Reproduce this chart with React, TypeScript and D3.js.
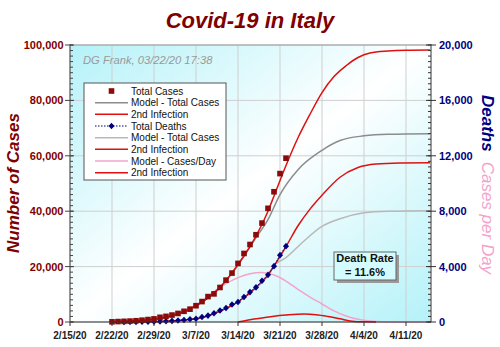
import React from "react";
import * as d3 from "d3";

// ---------- data ----------
const casesStart = "2020-02-22";
const totalCases = [62, 155, 229, 322, 453, 655, 888, 1128, 1694, 2036, 2502, 3089, 3858, 4636, 5883, 7375, 9172, 10149, 12462, 15113, 17660, 21157, 24747, 27980, 31506, 35713, 41035, 47021, 53578, 59138];
const deathsStart = "2020-02-24";
const totalDeaths = [7, 10, 12, 17, 21, 29, 34, 52, 79, 107, 148, 197, 233, 366, 463, 631, 827, 1016, 1266, 1441, 1809, 2158, 2503, 2978, 3405, 4032, 4825, 5476];

const modelCasesDates = ["2020-02-22", "2020-02-29", "2020-03-07", "2020-03-11", "2020-03-14", "2020-03-17", "2020-03-19", "2020-03-21", "2020-03-24", "2020-03-28", "2020-03-31", "2020-04-04", "2020-04-08", "2020-04-15"];
const modelCasesValues = [100, 1000, 5800, 12500, 20500, 30500, 37000, 46000, 55000, 62000, 65500, 67200, 67800, 68000];

const secondCasesDates = ["2020-02-22", "2020-02-29", "2020-03-07", "2020-03-11", "2020-03-14", "2020-03-17", "2020-03-19", "2020-03-20", "2020-03-22", "2020-03-24", "2020-03-26", "2020-03-28", "2020-03-30", "2020-04-01", "2020-04-03", "2020-04-05", "2020-04-08", "2020-04-11", "2020-04-15"];
const secondCasesValues = [100, 1000, 5800, 12500, 20800, 31000, 40000, 45500, 56500, 66500, 75000, 82800, 88600, 92500, 95500, 97100, 97800, 98100, 98200];

const modelDeathsDates = ["2020-02-22", "2020-02-29", "2020-03-07", "2020-03-11", "2020-03-14", "2020-03-17", "2020-03-19", "2020-03-20", "2020-03-22", "2020-03-25", "2020-03-28", "2020-03-31", "2020-04-04", "2020-04-08", "2020-04-15"];
const modelDeathsValues = [0, 25, 230, 780, 1450, 2450, 3350, 4050, 4650, 5850, 6900, 7450, 7880, 8000, 8040];

const secondDeathsDates = ["2020-02-22", "2020-02-29", "2020-03-07", "2020-03-11", "2020-03-14", "2020-03-17", "2020-03-19", "2020-03-20", "2020-03-22", "2020-03-24", "2020-03-26", "2020-03-28", "2020-03-31", "2020-04-03", "2020-04-06", "2020-04-10", "2020-04-15"];
const secondDeathsValues = [0, 25, 230, 780, 1450, 2500, 3400, 4050, 5450, 6950, 8150, 9150, 10450, 11150, 11400, 11480, 11500];

const perDayDates = ["2020-02-22", "2020-02-25", "2020-02-29", "2020-03-03", "2020-03-07", "2020-03-11", "2020-03-14", "2020-03-16", "2020-03-18", "2020-03-20", "2020-03-22", "2020-03-24", "2020-03-26", "2020-03-28", "2020-03-30", "2020-04-01", "2020-04-03", "2020-04-05", "2020-04-07", "2020-04-10", "2020-04-15"];
const perDayValues = [30, 80, 250, 520, 1230, 2500, 3200, 3480, 3570, 3390, 2950, 2350, 1800, 1300, 800, 430, 200, 70, 15, 0, 0];

const secondPerDayDates = ["2020-03-14", "2020-03-17", "2020-03-20", "2020-03-22", "2020-03-25", "2020-03-27", "2020-03-29", "2020-03-31", "2020-04-02", "2020-04-04", "2020-04-06"];
const secondPerDayValues = [0, 230, 420, 500, 575, 530, 400, 230, 60, 10, 0];

const xTickDates = ["2020-02-15", "2020-02-22", "2020-02-29", "2020-03-07", "2020-03-14", "2020-03-21", "2020-03-28", "2020-04-04", "2020-04-11"];
const xTickLabels = ["2/15/20", "2/22/20", "2/29/20", "3/7/20", "3/14/20", "3/21/20", "3/28/20", "4/4/20", "4/11/20"];
const leftTicks = [0, 20000, 40000, 60000, 80000, 100000];
const rightTicks = [0, 4000, 8000, 12000, 16000, 20000];

const legendLabels = ["Total Cases", "Model - Total Cases", "2nd Infection", "Total Deaths", "Model - Total Cases", "2nd Infection", "Model - Cases/Day", "2nd Infection"];

// ---------- helpers ----------
const parse = d3.utcParse("%Y-%m-%d");
const DAY = 86400000;
const daily = (start: string, vals: number[]) => {
  const s = parse(start)!.getTime();
  return vals.map((v, i) => ({ date: new Date(s + i * DAY), v }));
};
const pairs = (dates: string[], vals: number[]) => dates.map((d, i) => ({ date: parse(d)!, v: vals[i] }));

const FONT = "'Liberation Sans', Arial, sans-serif";
const DARKRED = "#800000";
const NAVY = "#000080";
const RED = "#e01010";
const GRAY = "#8c8c8c";
const LGRAY = "#b8b8b8";
const PINK = "#f4a3cb";

export default function App() {
  const L = 70, R = 430, T = 45, B = 322;
  const x = d3.scaleUtc().domain([parse("2020-02-15")!, parse("2020-04-15")!]).range([L, R]);
  const yL = d3.scaleLinear().domain([0, 100000]).range([B, T]);
  const yR = d3.scaleLinear().domain([0, 20000]).range([B, T]);

  const lineL = d3.line<{ date: Date; v: number }>().x(d => x(d.date)).y(d => yL(d.v)).curve(d3.curveMonotoneX);
  const lineR = d3.line<{ date: Date; v: number }>().x(d => x(d.date)).y(d => yR(d.v)).curve(d3.curveMonotoneX);
  const lineRstraight = d3.line<{ date: Date; v: number }>().x(d => x(d.date)).y(d => yR(d.v));

  const cases = daily(casesStart, totalCases);
  const deaths = daily(deathsStart, totalDeaths);

  const leftMinor = d3.range(0, 100001, 2000);
  const rightMinor = d3.range(0, 20001, 400);
  const fmt = d3.format(",");

  const diamond = "M0,-3.3L3,0L0,3.3L-3,0Z";

  const lgX = 84, lgY = 83, lgW = 142, lgH = 97;
  const rowY = (i: number) => lgY + 8 + i * 11.67;
  const legendStyles = [
    { kind: "square" },
    { kind: "line", color: GRAY },
    { kind: "line", color: RED },
    { kind: "deaths" },
    { kind: "line", color: LGRAY },
    { kind: "line", color: RED },
    { kind: "line", color: PINK },
    { kind: "line", color: RED },
  ];

  return (
    <svg width={500} height={347} style={{ position: "absolute", left: 0, top: 0, display: "block", background: "#fff" }} fontFamily={FONT}>
      <defs>
        <linearGradient id="bg" x1="0" y1="0" x2="1" y2="1">
          <stop offset="0" stopColor="#b4f2f9" />
          <stop offset="0.5" stopColor="#ffffff" />
          <stop offset="1" stopColor="#b4f2f9" />
        </linearGradient>
      </defs>

      {/* plot background */}
      <rect x={L} y={T} width={R - L} height={B - T} fill="url(#bg)" />

      {/* grid */}
      {xTickDates.map((d, i) => (
        <line key={"gx" + i} x1={x(parse(d)!)} x2={x(parse(d)!)} y1={T} y2={B} stroke="#cfcfcf" strokeWidth={1} />
      ))}
      {leftTicks.map((t, i) => (
        <line key={"gy" + i} x1={L} x2={R} y1={yL(t)} y2={yL(t)} stroke="#cfcfcf" strokeWidth={1} />
      ))}
      <line x1={L} x2={R} y1={T} y2={T} stroke="#9a9a9a" />

      {/* model lines */}
      <path d={lineR(pairs(perDayDates, perDayValues))!} fill="none" stroke={PINK} strokeWidth={1.5} />
      <path d={lineR(pairs(secondPerDayDates, secondPerDayValues))!} fill="none" stroke={RED} strokeWidth={1.5} />
      <path d={lineR(pairs(modelDeathsDates, modelDeathsValues))!} fill="none" stroke={LGRAY} strokeWidth={1.5} />
      <path d={lineR(pairs(secondDeathsDates, secondDeathsValues))!} fill="none" stroke={RED} strokeWidth={1.5} />
      <path d={lineL(pairs(modelCasesDates, modelCasesValues))!} fill="none" stroke={GRAY} strokeWidth={1.5} />
      <path d={lineL(pairs(secondCasesDates, secondCasesValues))!} fill="none" stroke={RED} strokeWidth={1.5} />

      {/* deaths dotted line + markers */}
      <path d={lineRstraight(deaths)!} fill="none" stroke={NAVY} strokeWidth={1} strokeDasharray="1.5,1.5" />
      {deaths.map((d, i) => (
        <path key={"dm" + i} d={diamond} transform={`translate(${x(d.date)},${yR(d.v)})`} fill={NAVY} />
      ))}
      {cases.map((d, i) => (
        <rect key={"cm" + i} x={x(d.date) - 2.8} y={yL(d.v) - 2.8} width={5.6} height={5.6} fill="#8b0a0a" />
      ))}

      {/* axes */}
      <line x1={L} x2={L} y1={T - 1} y2={B} stroke="#444" />
      <line x1={R + 1} x2={R + 1} y1={T - 1} y2={B} stroke="#333" />
      <line x1={L} x2={R + 1} y1={B} y2={B} stroke="#333" />
      {leftMinor.map((t, i) => (
        <line key={"lm" + i} x1={L} x2={L + 3} y1={yL(t)} y2={yL(t)} stroke="#444" />
      ))}
      {rightMinor.map((t, i) => (
        <line key={"rm" + i} x1={R + 1} x2={R - 2} y1={yR(t)} y2={yR(t)} stroke="#333" />
      ))}
      {leftTicks.map((t, i) => (
        <g key={"lt" + i}>
          <line x1={L - 5} x2={L + 4} y1={yL(t)} y2={yL(t)} stroke="#444" />
          <text x={63.5} y={yL(t) + 4} textAnchor="end" fontSize={11} fontWeight="bold" fill={DARKRED}>{fmt(t)}</text>
        </g>
      ))}
      {rightTicks.map((t, i) => (
        <g key={"rt" + i}>
          <line x1={R - 4} x2={R + 6} y1={yR(t)} y2={yR(t)} stroke="#333" />
          <text x={439} y={yR(t) + 4} textAnchor="start" fontSize={11} fontWeight="bold" fill={NAVY}>{fmt(t)}</text>
        </g>
      ))}
      {xTickDates.map((d, i) => (
        <g key={"xt" + i}>
          <line x1={x(parse(d)!)} x2={x(parse(d)!)} y1={B} y2={B + 4} stroke="#333" />
          <text x={x(parse(d)!)} y={339} textAnchor="middle" fontSize={10} fontWeight="bold" fill="#222">{xTickLabels[i]}</text>
        </g>
      ))}

      {/* titles */}
      <text x={250} y={28} textAnchor="middle" fontSize={22} fontWeight="bold" fontStyle="italic" fill={DARKRED}>Covid-19 in Italy</text>
      <text transform="translate(19,183) rotate(-90)" textAnchor="middle" fontSize={17} fontWeight="bold" fontStyle="italic" fill={DARKRED}>Number of Cases</text>
      <text transform="translate(482,95) rotate(90)" fontSize={17} fontStyle="italic">
        <tspan fontWeight="bold" fill={NAVY}>Deaths</tspan>
        <tspan dx={10} fill={PINK}>Cases per Day</tspan>
      </text>

      {/* annotation */}
      <text x={83} y={64} fontSize={11.2} fontStyle="italic" fill="#9a9a9a">DG Frank, 03/22/20 17:38</text>

      {/* legend */}
      <rect x={lgX} y={lgY} width={lgW} height={lgH} fill="#fff" stroke="#555" strokeWidth={1} />
      {legendLabels.map((lab, i) => {
        const st = legendStyles[i];
        const cy = rowY(i);
        return (
          <g key={"lg" + i}>
            {st.kind === "square" && <rect x={111.5 - 2.8} y={cy - 2.8} width={5.6} height={5.6} fill="#8b0a0a" />}
            {st.kind === "line" && <line x1={95} x2={128} y1={cy} y2={cy} stroke={st.color} strokeWidth={1.5} />}
            {st.kind === "deaths" && (
              <g>
                <line x1={95} x2={128} y1={cy} y2={cy} stroke={NAVY} strokeWidth={1} strokeDasharray="1.5,1.5" />
                <path d={diamond} transform={`translate(111.5,${cy})`} fill={NAVY} />
              </g>
            )}
            <text x={131} y={cy + 3.5} fontSize={10} fill="#111">{lab}</text>
          </g>
        );
      })}

      {/* death rate box */}
      <rect x={337} y={255} width={62} height={28} fill="#999" />
      <rect x={334} y={252} width={62} height={28} fill="#d4fcff" stroke="#666" strokeWidth={1} />
      <text x={365} y={262} textAnchor="middle" fontSize={11} fontWeight="bold" fill="#111">Death Rate</text>
      <text x={365} y={276} textAnchor="middle" fontSize={11} fontWeight="bold" fill="#111">= 11.6%</text>
    </svg>
  );
}
